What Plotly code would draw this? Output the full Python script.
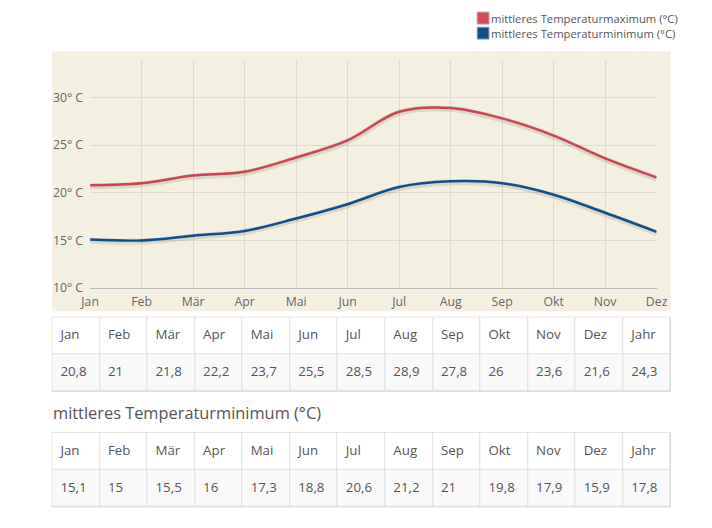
import plotly.graph_objects as go

months = ["Jan", "Feb", "Mär", "Apr", "Mai", "Jun", "Jul", "Aug", "Sep", "Okt", "Nov", "Dez"]
table_cols = months + ["Jahr"]
t_max = [20.8, 21, 21.8, 22.2, 23.7, 25.5, 28.5, 28.9, 27.8, 26, 23.6, 21.6]
t_max_year = 24.3
t_min = [15.1, 15, 15.5, 16, 17.3, 18.8, 20.6, 21.2, 21, 19.8, 17.9, 15.9]
t_min_year = 17.8
y_ticks = [10, 15, 20, 25, 30]
y_tick_text = ["10° C", "15° C", "20° C", "25° C", "30° C"]

name_max = "mittleres Temperaturmaximum (°C)"
name_min = "mittleres Temperaturminimum (°C)"
RED = "#cc4452"
BLUE = "#0c4e8e"
FONT = "Open Sans"
W, H = 712, 528
# layout compensation for the capture
SX, OX, SY = 0.973, 9.7, 0.981
FS = 1.0 / 0.977


def px(x):
    return ((x - OX) / SX) / W


def py(y):
    return (H - y / SY) / H


def fmt(v):
    return ("%g" % v).replace(".", ",")


fig = go.Figure()

# soft shadows under the lines
for vals in (t_max, t_min):
    fig.add_trace(go.Scatter(x=months, y=[v - 0.12 for v in vals], mode="lines",
                             line=dict(color="rgba(60,50,30,0.13)", width=6, shape="spline", smoothing=1.0),
                             showlegend=False, hoverinfo="skip"))

fig.add_trace(go.Scatter(x=months, y=t_max, mode="lines", name=name_max,
                         line=dict(color=RED, width=2.5, shape="spline", smoothing=1.0),
                         showlegend=False))
fig.add_trace(go.Scatter(x=months, y=t_min, mode="lines", name=name_min,
                         line=dict(color=BLUE, width=2.5, shape="spline", smoothing=1.0),
                         showlegend=False))

# tables: a heatmap for the cells, text scatter for the contents
cell_font = dict(family=FONT, size=13 * FS, color="#555555")
col_idx = list(range(len(table_cols)))
table_specs = [
    ("x2", "y2", t_max + [t_max_year], (316, 390)),
    ("x3", "y3", t_min + [t_min_year], (431, 505)),
]
shapes = []
axes_layout = {}
for xa, ya, vals, (top, bottom) in table_specs:
    fig.add_trace(go.Heatmap(
        x=col_idx, y=[0, 1], z=[[1] * len(col_idx), [0] * len(col_idx)],
        colorscale=[[0, "#ffffff"], [1, "#f9f9f9"]], zmin=0, zmax=1, showscale=False,
        xgap=1, ygap=1, hoverinfo="skip", xaxis=xa, yaxis=ya))
    fig.add_trace(go.Scatter(
        x=[i - 0.5 for i in col_idx], y=[1] * len(col_idx), text=table_cols,
        mode="markers+text", textposition="middle right",
        marker=dict(size=11.5, color="rgba(0,0,0,0)"), textfont=cell_font,
        showlegend=False, hoverinfo="skip", xaxis=xa, yaxis=ya))
    fig.add_trace(go.Scatter(
        x=[i - 0.5 for i in col_idx], y=[0] * len(col_idx), text=[fmt(v) for v in vals],
        mode="markers+text", textposition="middle right",
        marker=dict(size=11.5, color="rgba(0,0,0,0)"), textfont=cell_font,
        showlegend=False, hoverinfo="skip", xaxis=xa, yaxis=ya))
    n = xa[1:]
    axes_layout["xaxis" + n] = dict(domain=[px(52), px(672)], range=[-0.5, len(col_idx) - 0.5],
                                    visible=False, anchor=ya, fixedrange=True)
    axes_layout["yaxis" + n] = dict(domain=[py(bottom), py(top)], range=[-0.5, 1.5],
                                    visible=False, anchor=xa, fixedrange=True)
    shapes.append(dict(type="rect", xref="paper", yref="paper", x0=px(52), x1=px(672),
                       y0=py(bottom), y1=py(top), fillcolor="#dddddd",
                       line=dict(color="#dddddd", width=1), layer="below"))

shapes += [
    dict(type="rect", xref="paper", yref="paper", x0=px(52), x1=px(672), y0=py(310), y1=py(51),
         fillcolor="#f4f0e1", line_width=0, layer="below"),
    dict(type="rect", xref="paper", yref="paper", x0=px(478), x1=px(490), y0=py(24), y1=py(12),
         fillcolor="#d64d58", line=dict(color="#b0b0b0", width=1)),
    dict(type="rect", xref="paper", yref="paper", x0=px(478), x1=px(490), y0=py(39), y1=py(27),
         fillcolor="#0c4e8e", line=dict(color="#b0b0b0", width=1)),
]

annotations = [
    dict(text=name_max, xref="paper", yref="paper", x=px(490), y=py(18.5), xanchor="left",
         yanchor="middle", showarrow=False, font=dict(family=FONT, size=11 * FS, color="#555555")),
    dict(text=name_min, xref="paper", yref="paper", x=px(490), y=py(33.5), xanchor="left",
         yanchor="middle", showarrow=False, font=dict(family=FONT, size=11 * FS, color="#555555")),
    dict(text=name_min, xref="paper", yref="paper", x=px(51), y=py(411), xanchor="left",
         yanchor="middle", showarrow=False, font=dict(family=FONT, size=16 * FS, color="#555555")),
]

fig.update_layout(
    width=W, height=H, margin=dict(l=0, r=0, t=0, b=0),
    paper_bgcolor="white", plot_bgcolor="rgba(0,0,0,0)",
    shapes=shapes, annotations=annotations, showlegend=False,
    xaxis=dict(domain=[px(90), px(658)], type="category", range=[0, len(months) - 1],
               showgrid=True, gridcolor="#dedad0", gridwidth=1,
               showline=True, linecolor="#b8b8b8", linewidth=1, ticks="",
               tickfont=dict(family=FONT, size=12 * FS, color="#666666"), ticklabelstandoff=2,
               zeroline=False, fixedrange=True),
    yaxis=dict(domain=[py(287), py(60)], range=[10, 33.9], tickvals=y_ticks, ticktext=y_tick_text,
               showgrid=True, gridcolor="#dedad0", gridwidth=1, zeroline=False,
               showline=False, ticks="", ticklabelstandoff=6,
               tickfont=dict(family=FONT, size=12 * FS, color="#666666"), fixedrange=True),
    **axes_layout,
)

fig.write_html("out.html", config={"displayModeBar": False},
               post_script="document.body.style.margin='0';document.body.style.overflow='hidden';")
